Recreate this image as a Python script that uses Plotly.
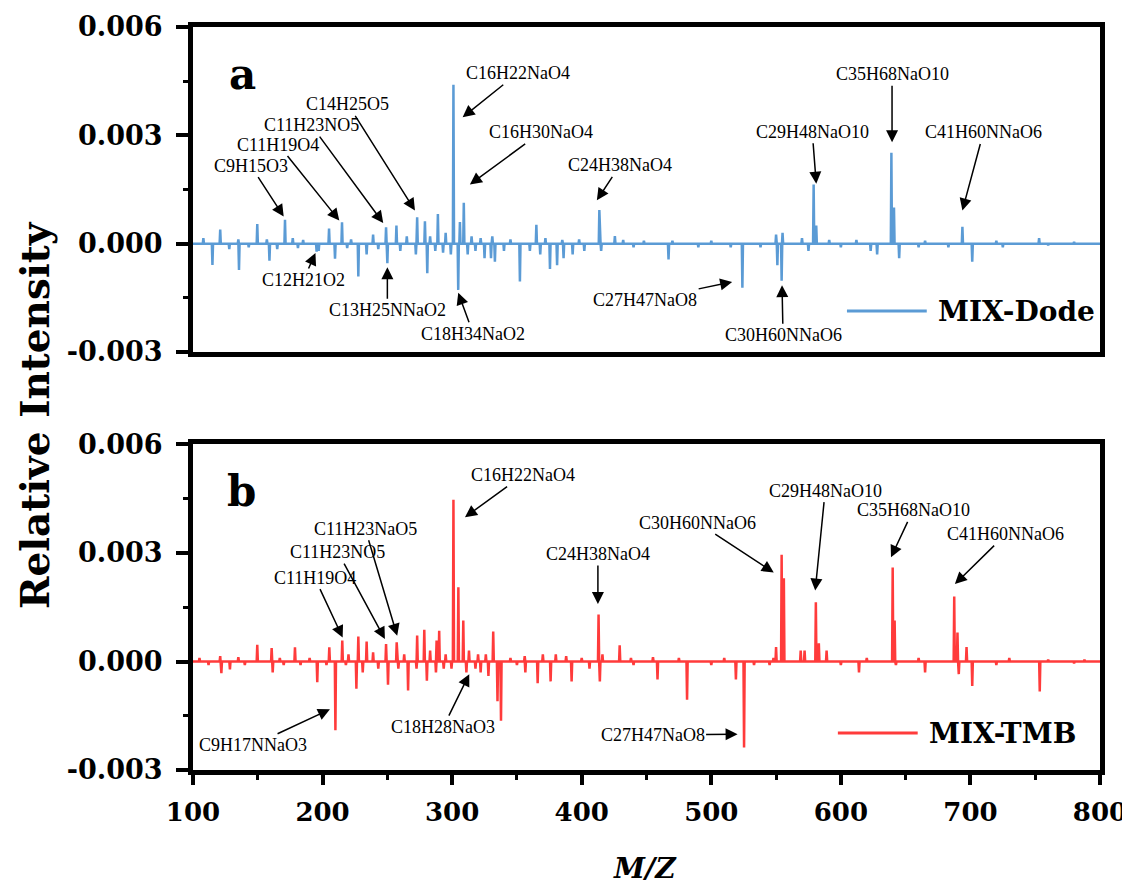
import plotly.graph_objects as go

# ---------------- data ----------------
x_ticks = [100, 200, 300, 400, 500, 600, 700, 800]
x_tick_labels = ["100", "200", "300", "400", "500", "600", "700", "800"]
y_ticks = [-0.003, 0.0, 0.003, 0.006]
y_tick_labels = ["-0.003", "0.000", "0.003", "0.006"]

# panel a : MIX-Dode  (peak m/z, relative intensity)
dode_mz = [108, 121, 135, 149.6, 157, 171, 177, 185, 205, 215, 222, 239, 249, 257, 265,
           273, 279, 283, 289, 295, 301, 306, 309, 315, 322, 331, 345, 365, 372, 385, 398,
           413.6, 425.6, 432, 448, 470, 500, 550, 555, 570, 579, 581, 591, 612, 639, 641,
           665, 693.8, 720, 753, 780,
           115, 128, 135.5, 143, 159, 165, 181, 195.4, 197, 209.6, 219, 227.6, 234, 243,
           250, 260, 272, 280.8, 287, 293, 299, 304.7, 312, 318, 325, 330, 333, 340, 352.3,
           360, 368, 375.5, 381, 386, 393, 402, 415, 440, 467, 490, 515, 524, 538, 551,
           554.3, 575, 600, 623, 628, 645, 660, 683, 701.4, 725, 760]
dode_int = [0.00015, 0.00039, 0.00012, 0.00054, 0.00012, 0.00066, 0.00015, 0.0001, 0.00042,
            0.00059, 0.00012, 0.00025, 0.00045, 0.0005, 0.0002, 0.00073, 0.00062, 0.0002,
            0.00082, 0.0003, 0.0044, 0.0006, 0.00113, 0.0002, 0.00015, 0.0002, 0.00012,
            0.00052, 0.00015, 0.0001, 0.00012, 0.00093, 0.00021, 0.0001, 0.00008, 0.00008,
            0.00008, 0.00025, 0.0003, 0.00015, 0.00164, 0.0005, 0.0001, 0.0001, 0.00252,
            0.001, 0.00008, 0.00047, 0.00008, 0.00015, 0.00005,
            -0.00059, -0.00015, -0.00073, -0.0001, -0.00047, -0.00015, -0.00012, -0.00022,
            -0.0002, -0.00042, -0.00012, -0.00091, -0.0003, -0.00015, -0.00054, -0.0002,
            -0.0003, -0.00082, -0.0002, -0.00025, -0.0003, -0.00128, -0.0003, -0.0002,
            -0.0004, -0.0004, -0.0005, -0.0002, -0.00105, -0.0002, -0.0003, -0.0007,
            -0.0006, -0.0004, -0.0003, -0.0002, -0.0002, -0.0001, -0.00044, -0.0001,
            -0.0001, -0.00122, -0.0001, -0.0006, -0.00103, -0.0002, -0.0001, -0.0002,
            -0.0003, -0.0004, -0.0001, -0.0001, -0.0005, -0.0001, -0.00005]

# panel b : MIX-TMB
tmb_mz = [105, 121, 135, 149.6, 160.7, 167, 178.7, 190, 205.2, 215.2, 220, 227.6, 234, 239,
          249, 257.2, 263, 273, 278.5, 283, 288, 290, 295, 301, 304.8, 308.6, 313, 320, 326,
          331.7, 345, 356, 370, 380, 388, 400, 413, 416, 429.3, 438, 455, 475, 510, 548, 550,
          554.3, 556, 569, 572, 580.7, 583, 589, 620, 640, 641.5, 660, 687.5, 690, 697, 730,
          760, 788,
          112, 121.9, 128.5, 140, 161.5, 170, 183, 195.9, 203, 209.9, 218, 226.1, 231, 243,
          250.5, 258.5, 266, 272.5, 280.5, 287.5, 293.5, 299.5, 311, 318, 322, 328, 335,
          337.7, 350, 356.5, 366, 376, 392.2, 406, 414, 440, 458.5, 481.3, 500, 519, 525.3,
          533, 545, 600, 614, 642.5, 665, 691, 701.4, 720, 753.5, 780]
tmb_int = [0.0001, 0.00015, 0.00012, 0.00046, 0.00037, 0.0001, 0.00039, 0.0001, 0.00039,
           0.00058, 0.0002, 0.00069, 0.00055, 0.00025, 0.00048, 0.00053, 0.0002, 0.00072,
           0.00088, 0.0003, 0.00058, 0.00085, 0.0002, 0.00447, 0.00205, 0.00113, 0.0003,
           0.0002, 0.0002, 0.00083, 0.0001, 0.00015, 0.0002, 0.0002, 0.00015, 0.0001, 0.0013,
           0.0002, 0.00045, 0.0001, 0.00012, 0.0001, 0.0001, 0.0001, 0.0004, 0.00295, 0.0023,
           0.0003, 0.0003, 0.00164, 0.0005, 0.0003, 0.0001, 0.0026, 0.00113, 0.0001, 0.0018,
           0.0008, 0.0004, 0.0001, 0.00005, 0.00005,
           -0.0001, -0.00032, -0.00022, -0.0001, -0.0003, -0.0001, -0.0001, -0.00057, -0.0001,
           -0.0019, -0.0001, -0.00075, -0.0003, -0.0002, -0.00064, -0.0002, -0.0008, -0.0002,
           -0.00053, -0.0003, -0.0002, -0.0002, -0.0003, -0.0002, -0.0003, -0.0004, -0.0011,
           -0.00164, -0.0001, -0.0003, -0.0006, -0.00055, -0.00055, -0.0002, -0.00055,
           -0.0001, -0.0005, -0.00106, -0.0001, -0.0005, -0.00238, -0.0001, -0.0001, -0.0001,
           -0.0003, -0.0001, -0.0003, -0.00035, -0.00068, -0.0001, -0.00083, -0.00005]

# annotations: label, arrow-head m/z, arrow-head intensity, text offset (px)
dode_labels = ["C9H15O3", "C11H19O4", "C11H23NO5", "C14H25O5", "C16H22NaO4", "C16H30NaO4",
               "C12H21O2", "C13H25NNaO2", "C18H34NaO2", "C24H38NaO4", "C29H48NaO10",
               "C35H68NaO10", "C41H60NNaO6", "C27H47NaO8", "C30H60NNaO6"]
dode_lab_mz = [170, 212.9, 246.8, 271.3, 308.1, 313.7, 194.5, 250, 304.7, 411.7, 581,
               639.5, 693.8, 516.1, 554.6]
dode_lab_y = [0.00075, 0.00064, 0.00057, 0.00092, 0.0035, 0.00164, -0.00026, -0.00065,
              -0.00136, 0.0012, 0.00166, 0.00281, 0.00092, -0.00106, -0.00115]
dode_lab_ax = [-33, -61, -72, -67, 55, 71, -12, 0, 15, 23, -4, 0, 21, -87, 1]
dode_lab_ay = [-51, -76, -98, -106, -44, -52, 27, 43, 41, -35, -52, -68, -78, 18, 50]

tmb_labels = ["C11H19O4", "C11H23NO5", "C11H23NaO5", "C16H22NaO4", "C9H17NNaO3",
              "C18H28NaO3", "C24H38NaO4", "C30H60NNaO6", "C29H48NaO10", "C35H68NaO10",
              "C41H60NNaO6", "C27H47NaO8"]
tmb_lab_mz = [215.5, 248.1, 257.6, 309.9, 205.7, 313.2, 412.5, 548.2, 580.2, 638.7, 688, 520.3]
tmb_lab_y = [0.00066, 0.00062, 0.00071, 0.00399, -0.00132, -0.00035, 0.00159, 0.00246,
             0.00196, 0.00288, 0.00214, -0.00201]
tmb_lab_ax = [-28, -47, -32, 58, -77, -26, 0, -76, 10, 22, 51, -85]
tmb_lab_ay = [-60, -87, -107, -42, 36, 53, -50, -50, -100, -47, -50, 1]

series_names = ["MIX-Dode", "MIX-TMB"]
series_colors = ["#5B9BD5", "#FF3B3B"]
panel_letters = ["a", "b"]


def stick(mz, inten):
    pts = sorted(zip(mz, inten))
    xs, ys = [100], [0.0]
    for m, v in pts:
        xs += [m - 0.45, m, m + 0.45]
        ys += [0.0, v, 0.0]
    xs.append(800)
    ys.append(0.0)
    return xs, ys


SERIF = "Liberation Serif"
BSERIF = "DejaVu Serif"
fig = go.Figure()

xa, ya = stick(dode_mz, dode_int)
xb, yb = stick(tmb_mz, tmb_int)
fig.add_trace(go.Scatter(x=xa, y=ya, mode="lines", name=series_names[0],
                         line=dict(color=series_colors[0], width=2.5),
                         xaxis="x", yaxis="y", showlegend=False))
fig.add_trace(go.Scatter(x=xb, y=yb, mode="lines", name=series_names[1],
                         line=dict(color=series_colors[1], width=2.5),
                         xaxis="x2", yaxis="y2", showlegend=False))

ytick_common = dict(range=[-0.003, 0.006], tickvals=y_ticks, ticktext=y_tick_labels,
                    ticks="outside", ticklen=12, tickwidth=4, tickcolor="black",
                    showline=True, linewidth=5, linecolor="black", mirror=True,
                    showgrid=False, zeroline=False, automargin=False,
                    ticklabelstandoff=8,
                    tickfont=dict(family=BSERIF, size=27, color="black", weight="bold"),
                    minor=dict(dtick=0.0015, tick0=0, ticks="outside", ticklen=5,
                               tickwidth=3, tickcolor="black", showgrid=False))

fig.update_layout(
    width=1130, height=885,
    paper_bgcolor="white", plot_bgcolor="white",
    margin=dict(l=185, r=38, t=19, b=123, autoexpand=False),
    showlegend=False,
    xaxis=dict(domain=[0, 1], range=[100, 800], anchor="y", showticklabels=False,
               ticks="", showline=True, linewidth=5, linecolor="black", mirror=True,
               showgrid=False, zeroline=False, automargin=False),
    yaxis=dict(domain=[0.5626, 1], anchor="x", **ytick_common),
    xaxis2=dict(domain=[0, 1], range=[100, 800], anchor="y2", tickvals=x_ticks,
                ticktext=x_tick_labels, ticks="outside", ticklen=10, tickwidth=4,
                tickcolor="black", showline=True, linewidth=5, linecolor="black",
                mirror=True, showgrid=False, zeroline=False, automargin=False,
                ticklabelstandoff=5,
                tickfont=dict(family=BSERIF, size=26, color="black", weight="bold"),
                minor=dict(dtick=50, tick0=0, ticks="outside", ticklen=5, tickwidth=3,
                           tickcolor="black", showgrid=False)),
    yaxis2=dict(domain=[0, 0.4381], anchor="x2", **ytick_common),
)

ann = []
for lab, m, v, ax, ay in zip(dode_labels, dode_lab_mz, dode_lab_y, dode_lab_ax, dode_lab_ay):
    ann.append(dict(x=m, y=v, xref="x", yref="y", text=lab, ax=ax, ay=ay,
                    showarrow=True, arrowhead=2, arrowsize=1.6, arrowwidth=1.5,
                    arrowcolor="black", font=dict(family=SERIF, size=18, color="black")))
for lab, m, v, ax, ay in zip(tmb_labels, tmb_lab_mz, tmb_lab_y, tmb_lab_ax, tmb_lab_ay):
    ann.append(dict(x=m, y=v, xref="x2", yref="y2", text=lab, ax=ax, ay=ay,
                    showarrow=True, arrowhead=2, arrowsize=1.6, arrowwidth=1.5,
                    arrowcolor="black", font=dict(family=SERIF, size=18, color="black")))

# panel letters
ann.append(dict(x=0.055, y=0.855, xref="x domain", yref="y domain", text="<b>a</b>",
                xanchor="center", yanchor="middle",
                showarrow=False, font=dict(family=BSERIF, size=42, color="black")))
ann.append(dict(x=0.053, y=0.855, xref="x2 domain", yref="y2 domain", text="<b>b</b>",
                xanchor="center", yanchor="middle",
                showarrow=False, font=dict(family=BSERIF, size=42, color="black")))

# legend entries (line swatch + label)
shapes = [
    dict(type="line", xref="x domain", yref="y domain", x0=0.721, x1=0.809, y0=0.126,
         y1=0.126, line=dict(color=series_colors[0], width=3)),
    dict(type="line", xref="x2 domain", yref="y2 domain", x0=0.711, x1=0.799, y0=0.1135,
         y1=0.1135, line=dict(color=series_colors[1], width=3)),
]
ann.append(dict(x=0.819, y=0.126, xref="x domain", yref="y domain",
                text="<b>" + series_names[0] + "</b>", xanchor="left", yanchor="middle",
                showarrow=False, font=dict(family=BSERIF, size=28, color="black")))
ann.append(dict(x=0.809, y=0.1135, xref="x2 domain", yref="y2 domain",
                text="<b>" + series_names[1] + "</b>", xanchor="left", yanchor="middle",
                showarrow=False, font=dict(family=BSERIF, size=28, color="black")))

# axis titles
ann.append(dict(x=-0.174, y=0.478, xref="paper", yref="paper", text="<b>Relative Intensity</b>",
                textangle=-90, showarrow=False, xanchor="center", yanchor="middle",
                font=dict(family=BSERIF, size=39, color="black")))
ann.append(dict(x=0.498, y=-0.132, xref="paper", yref="paper", text="<b><i>M/Z</i></b>",
                showarrow=False, xanchor="center", yanchor="middle",
                font=dict(family=BSERIF, size=28, color="black")))

fig.update_layout(annotations=ann, shapes=shapes)
fig.write_html("out.html")
